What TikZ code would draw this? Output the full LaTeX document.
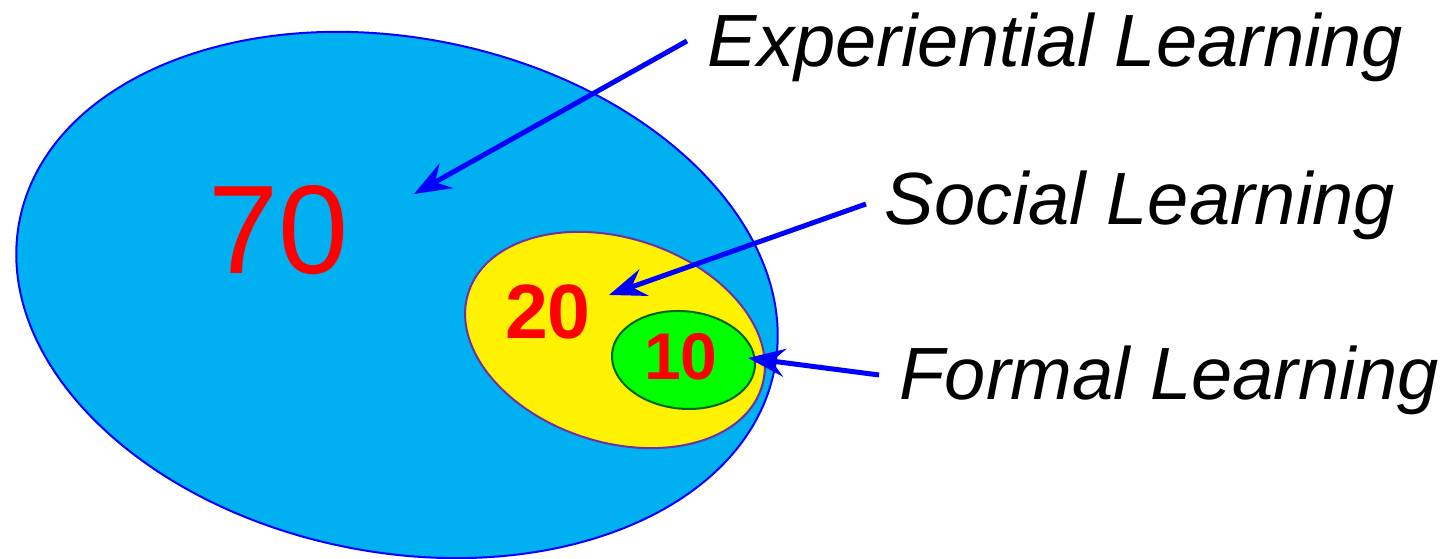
\documentclass[tikz,border=0pt]{standalone}
\usepackage{fontspec}
\setmainfont{Liberation Sans}
\usetikzlibrary{arrows.meta,shapes.geometric}
\definecolor{skyfill}{RGB}{0,176,240}
\definecolor{edgeblue}{RGB}{0,0,255}
\definecolor{edgepurple}{RGB}{112,48,160}
\definecolor{edgegreen}{RGB}{0,100,0}
\tikzset{
  blob/.style={ellipse,inner sep=0pt,line width=0.02cm},
  num/.style={inner sep=0pt,text=red},
  lbl/.style={inner sep=0pt,anchor=base west,font=\fontsize{21.05}{25}\selectfont\itshape},
  pointer/.style={draw=edgeblue,line width=0.05cm,
    -{Stealth[length=0.37cm,width=0.28cm,inset=0.13cm]}}
}
\begin{document}
\begin{tikzpicture}[x=0.01cm,y=-0.01cm]
\useasboundingbox (0,0) rectangle (1447,559);
\node[blob,draw=edgeblue,fill=skyfill,minimum width=7.69cm,minimum height=5.14cm,rotate=-11.2] (exper) at (397,295) {};
\node[blob,draw=edgepurple,fill=yellow,minimum width=3.08cm,minimum height=2.04cm,rotate=-18] (social) at (615,340) {};
\node[blob,draw=edgegreen,fill=green,minimum width=1.434cm,minimum height=0.974cm,rotate=-5.6] (formal) at (683.5,360) {};
\node[num,font=\fontsize{35.85}{40}\selectfont] (seventy) at (279,230) {70};
\node[num,font=\fontsize{21.9}{26}\selectfont\bfseries] (twenty) at (548,312) {20};
\node[num,font=\fontsize{18.78}{22}\selectfont\bfseries] (ten) at (681,357) {10};
\node[lbl] (explbl) at (707,67) {Experiential Learning};
\node[lbl] (soclbl) at (884,225) {Social Learning};
\node[lbl] (forlbl) at (899,400) {Formal Learning};
\coordinate (exptail) at (687,41);
\coordinate (exptip) at (414,194);
\coordinate (soctail) at (866,204);
\coordinate (soctip) at (609,295);
\coordinate (fortail) at (879,375);
\coordinate (fortip) at (748,358);
\draw[pointer] (exptail) -- (exptip);
\draw[pointer] (soctail) -- (soctip);
\draw[pointer] (fortail) -- (fortip);
\end{tikzpicture}
\end{document}
